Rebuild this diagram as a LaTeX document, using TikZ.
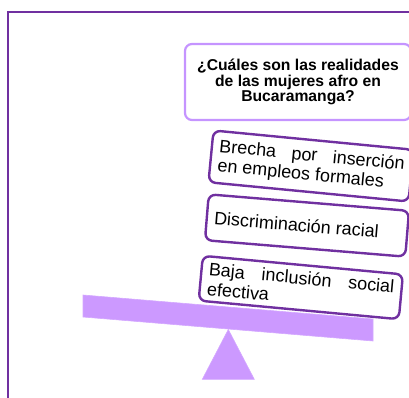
\documentclass[tikz,border=0pt]{standalone}
\usepackage{fontspec}
\setmainfont{Liberation Sans}
\usepackage{tikz}

\definecolor{framepurple}{HTML}{7030A0}
\definecolor{lightpurple}{HTML}{C594FF}
\definecolor{lavender}{HTML}{CC99FF}

\begin{document}
\begin{tikzpicture}[
			x=1pt, y=-1pt,
			questionbox/.style={rectangle, draw=lightpurple, line width=2.2pt, rounded corners=7pt, fill=white, minimum width=226pt, minimum height=76pt, align=center, font=\fontsize{15.7}{15.5}\selectfont\bfseries},
			factorbox/.style={rectangle, draw=framepurple, line width=2.4pt, rounded corners=7pt, fill=white, text width=186pt, inner xsep=7.5pt, align=justify, font=\fontsize{18}{19.5}\selectfont},
			support/.style={fill=lavender, draw=lavender!85!white, line width=0.6pt}
			]
			\clip (0,0) rectangle (409,398);
			% Frame
			\draw [framepurple, line width=2.2pt] (8,430) -- (8,12) -- (430,12);
			
			% Nodes
			\node (question) [questionbox] at (298,82) {¿Cuáles son las realidades\\de las mujeres afro en\\Bucaramanga?};
			\node (brecha) [factorbox, rotate=-5.5, minimum height=52pt] at (311,166) {Brecha por inserción\linebreak en empleos formales};
			\node (discrim) [factorbox, rotate=-4.7, minimum height=46pt] at (307,225.5) {Discriminación racial};
			
			% Balance
			\draw [support] (83,295) -- (373,319) -- (373,341) -- (83,317) -- cycle;
			\draw [support] (228.3,329.5) -- (254.3,379.3) -- (202.3,379.3) -- cycle;
			
			\node (inclusion) [factorbox, rotate=-5.3, minimum height=45pt] at (300.8,287.5) {Baja inclusión social\linebreak efectiva};
		\end{tikzpicture}
\end{document}
